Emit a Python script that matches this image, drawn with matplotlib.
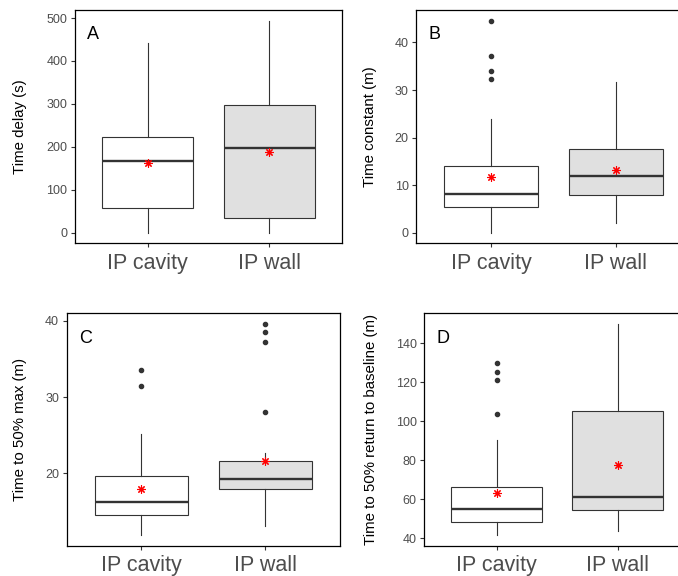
import numpy as np
import matplotlib
matplotlib.use('Agg')
import matplotlib.pyplot as plt

plt.rcParams['font.family'] = ['Liberation Sans', 'DejaVu Sans']

groups = ['IP cavity', 'IP wall']
letters = ['A', 'B', 'C', 'D']
ylabels = ['Time delay (s)', 'Time constant (m)', 'Time to 50% max (m)',
           'Time to 50% return to baseline (m)']

# summary stats: [cavity, wall]
whislo = [[0, 0], [0, 2.0], [11.9, 13.1], [41.5, 43.8]]
q1 = [[57.5, 35], [5.5, 7.9], [14.5, 18.0], [48.4, 54.3]]
med = [[168, 197], [8.1, 12.0], [16.2, 19.2], [54.7, 61.1]]
q3 = [[224, 297], [14.0, 17.7], [19.7, 21.6], [66.4, 105.1]]
whishi = [[442, 494], [24.0, 31.6], [25.2, 22.7], [90.4, 150.0]]
means = [[163, 187], [11.7, 13.1], [17.9, 21.6], [63.0, 77.7]]
fliers = [
    [[], []],
    [[44.6, 37.2, 34.0, 32.3], []],
    [[33.5, 31.4], [39.6, 38.5, 37.2, 28.1]],
    [[130.0, 125.3, 121.3, 103.5], []],
]
yticks = [[0, 100, 200, 300, 400, 500], [0, 10, 20, 30, 40], [20, 30, 40],
          [40, 60, 80, 100, 120, 140]]

fills = ['white', '#E0E0E0']

# axes positions in figure fraction (right-hand panels run off the edge)
pos = [[0.1106, 0.5776, 0.3937, 0.405],
       [0.614, 0.5776, 0.4046, 0.405],
       [0.0984, 0.0526, 0.4024, 0.4035],
       [0.6258, 0.0526, 0.3923, 0.4035]]
label_x = [-0.205, -0.17, -0.172, -0.2]

fig = plt.figure(figsize=(6.78, 5.76), dpi=100)

for i in range(4):
    ax = fig.add_axes(pos[i])
    stats = []
    for j in range(2):
        stats.append({'med': med[i][j], 'q1': q1[i][j], 'q3': q3[i][j],
                      'whislo': whislo[i][j], 'whishi': whishi[i][j],
                      'fliers': fliers[i][j], 'mean': means[i][j]})
    bp = ax.bxp(stats, positions=[1, 2], widths=0.75, patch_artist=True,
                showcaps=False, showmeans=True,
                boxprops=dict(edgecolor='#333333', linewidth=0.8),
                whiskerprops=dict(color='#333333', linewidth=0.8),
                medianprops=dict(color='#333333', linewidth=1.7),
                flierprops=dict(marker='o', markersize=3, markerfacecolor='#333333',
                                markeredgecolor='#333333'),
                meanprops=dict(marker=(8, 2, 0), markersize=6, markeredgecolor='red',
                               markeredgewidth=0.8, markerfacecolor='red'))
    for patch, c in zip(bp['boxes'], fills):
        patch.set_facecolor(c)

    lo = min(whislo[i] + [v for f in fliers[i] for v in f])
    hi = max(whishi[i] + [v for f in fliers[i] for v in f])
    pad = (hi - lo) * 0.05
    ax.set_ylim(lo - pad, hi + pad)
    ax.set_xlim(0.4, 2.6)
    ax.set_yticks(yticks[i])
    ax.set_xticks([1, 2])
    ax.set_xticklabels(groups)

    for s in ax.spines.values():
        s.set_color('black')
        s.set_linewidth(0.9)
    if i % 2 == 1:
        ax.spines['right'].set_visible(False)
    ax.tick_params(axis='both', color='#333333', length=3, width=0.8)
    ax.tick_params(axis='y', labelsize=9, labelcolor='#4D4D4D', pad=2.5)
    ax.tick_params(axis='x', labelsize=15.5, labelcolor='#4D4D4D', pad=4)

    ax.set_ylabel(ylabels[i], fontsize=10.8, color='black', va='center')
    ax.yaxis.set_label_coords(label_x[i], 0.5)
    ax.text(0.045, 0.893, letters[i], transform=ax.transAxes, fontsize=13,
            ha='left', va='center', color='black')

fig.savefig('out.png', dpi=100)
